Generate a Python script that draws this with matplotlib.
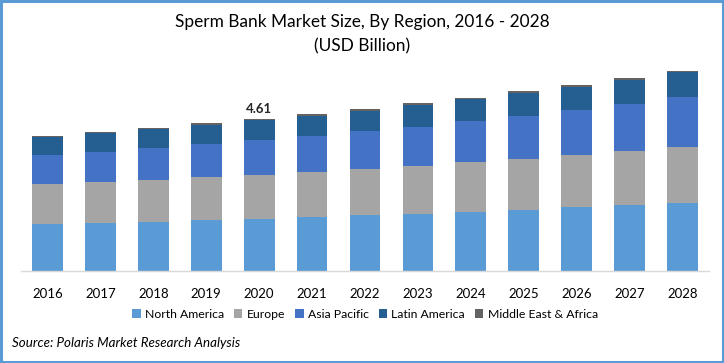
import matplotlib
matplotlib.use("Agg")
import matplotlib.pyplot as plt
from matplotlib.patches import Rectangle

years = ["2016", "2017", "2018", "2019", "2020", "2021", "2022",
         "2023", "2024", "2025", "2026", "2027", "2028"]
north_america = [1.43, 1.46, 1.49, 1.55, 1.58, 1.64, 1.70, 1.73, 1.79, 1.85, 1.95, 2.01, 2.07]
europe        = [1.22, 1.25, 1.28, 1.31, 1.34, 1.37, 1.40, 1.46, 1.52, 1.55, 1.58, 1.64, 1.70]
asia_pacific  = [0.88, 0.91, 0.97, 1.00, 1.06, 1.09, 1.16, 1.19, 1.25, 1.31, 1.37, 1.43, 1.52]
latin_america = [0.55, 0.58, 0.58, 0.58, 0.60, 0.61, 0.61, 0.67, 0.67, 0.70, 0.70, 0.73, 0.76]
mea           = [0.03, 0.03, 0.03, 0.06, 0.03, 0.06, 0.06, 0.06, 0.04, 0.06, 0.06, 0.06, 0.04]
series_names = ["North America", "Europe", "Asia Pacific", "Latin America", "Middle East & Africa"]
colors = ["#5B9BD5", "#A5A5A5", "#4472C4", "#255E91", "#636363"]
label_year = "2020"
label_text = "4.61"

plt.rcParams['font.family'] = ['Lato', 'DejaVu Sans']

fig = plt.figure(figsize=(7.24, 3.63), dpi=100)
ax = fig.add_axes([21/724, (363-271)/363, 688/724, 230.3/363])

series = [north_america, europe, asia_pacific, latin_america, mea]
x = list(range(len(years)))
bottoms = [0.0] * len(years)
handles = []
for name, vals, c in zip(series_names, series, colors):
    b = ax.bar(x, vals, width=0.58, bottom=bottoms, color=c, label=name, linewidth=0)
    handles.append(b)
    bottoms = [bb + v for bb, v in zip(bottoms, vals)]

i = years.index(label_year)
ax.text(i, bottoms[i] + 0.12, label_text, ha='center', va='bottom',
        fontsize=9.5, fontweight='bold', color='#262626')

ax.set_xlim(-0.5, len(years) - 0.5)
ax.set_ylim(0, 7)
ax.set_xticks(x)
ax.set_xticklabels(years, fontsize=9.5, color='#000000')
ax.tick_params(axis='x', length=0, pad=12)
ax.set_yticks([])
for s in ['top', 'right', 'left']:
    ax.spines[s].set_visible(False)
ax.spines['bottom'].set_color('#D9D9D9')
ax.spines['bottom'].set_linewidth(1.0)

fig.text(0.5, 1 - 22/363, "Sperm Bank Market Size, By Region, 2016 - 2028",
         ha='center', va='center', fontsize=12.4, color='#000000')
fig.text(0.5, 1 - 46/363, "(USD Billion)", ha='center', va='center',
         fontsize=12.4, color='#000000')

fig.legend(handles=handles, labels=series_names, loc='center',
           bbox_to_anchor=(365/724, 1 - 314/363), ncol=5, frameon=False,
           fontsize=8.8, handlelength=0.7, handleheight=0.7,
           handletextpad=0.35, columnspacing=0.8)

fig.text(12/724, 1 - 343/363, "Source: Polaris Market Research Analysis",
         ha='left', va='center', fontsize=9.6, style='italic', color='#000000')

fig.patches.append(Rectangle((0.0015, 0.003), 0.997, 0.994, transform=fig.transFigure,
                             fill=False, edgecolor='#5B9BD5', linewidth=2.2))

fig.savefig("out.png", dpi=100)
